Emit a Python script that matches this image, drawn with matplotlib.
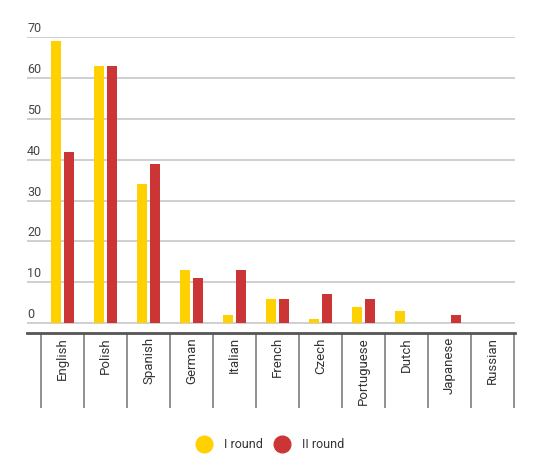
import numpy as np
import matplotlib.pyplot as plt
from matplotlib.lines import Line2D
import matplotlib.transforms as mtransforms

plt.rcParams['font.family'] = ['Roboto', 'DejaVu Sans']

# data
languages = ["English", "Polish", "Spanish", "German", "Italian", "French",
             "Czech", "Portuguese", "Dutch", "Japanese", "Russian"]
round_1 = [69, 63, 34, 13, 2, 6, 1, 4, 3, 0, 0]
round_2 = [42, 63, 39, 11, 13, 6, 7, 6, 0, 2, 0]
yticks = [0, 10, 20, 30, 40, 50, 60, 70]

yellow = "#FFD100"
red = "#CC3535"

W, H = 544, 466
fig = plt.figure(figsize=(W / 100, H / 100), dpi=100)
# axes box in pixels: left 27, right 515, top 37, bottom 333
ax = fig.add_axes([27 / W, 1 - 333 / H, (515 - 27) / W, (333 - 37) / H])

x = np.arange(len(languages))
ax.bar(x - 0.15, round_1, width=0.23, color=yellow, zorder=3)
ax.bar(x + 0.15, round_2, width=0.23, color=red, zorder=3)

ax.set_xlim(-0.826, 10.52)
ax.set_ylim(-2.45, 70.1)

# horizontal grid + labels above each line
for v in yticks:
    ax.axhline(v, color="#cccccc", lw=1.3, zorder=1)
    ax.annotate(str(v), xy=(0, v), xycoords=ax.get_yaxis_transform(),
                xytext=(0, 1.5), textcoords="offset points",
                ha="left", va="bottom", fontsize=9, color="#444444")

ax.set_yticks([])
ax.set_xticks(x)
ax.set_xticklabels(languages, rotation=90, fontsize=9.5, color="#333333")
ax.tick_params(axis="x", length=0, pad=3)

for s in ["top", "right", "left"]:
    ax.spines[s].set_visible(False)
ax.spines["bottom"].set_color("#555555")
ax.spines["bottom"].set_linewidth(2)

# vertical separators under the axis
trans = mtransforms.blended_transform_factory(ax.transData, ax.transAxes)
edges = np.arange(len(languages) + 1) - 0.5
ax.vlines(edges, -0.253, 0, transform=trans, colors="#888888", lw=1.3,
          clip_on=False)

handles = [Line2D([], [], marker="o", ls="", markersize=12, color=yellow),
           Line2D([], [], marker="o", ls="", markersize=12, color=red)]
fig.legend(handles, ["I round", "II round"], loc="center",
           bbox_to_anchor=(268 / W, 1 - 445 / H), ncol=2, frameon=False,
           fontsize=9, handletextpad=0.6, columnspacing=0.5,
           labelcolor="#333333")

fig.savefig("out.png", dpi=100)
